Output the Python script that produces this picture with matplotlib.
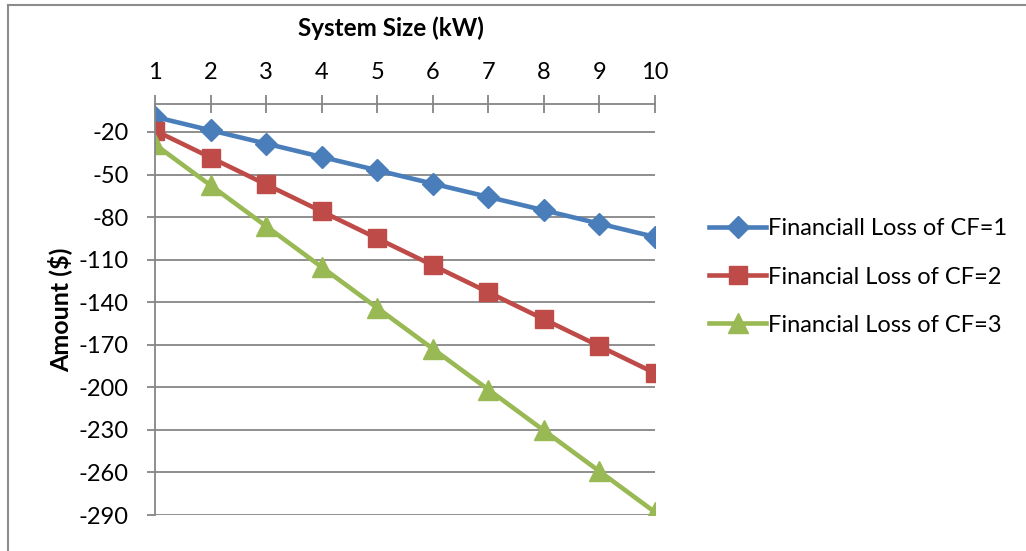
import numpy as np
import matplotlib.pyplot as plt
from matplotlib.lines import Line2D

plt.rcParams['font.family'] = ['Lato', 'DejaVu Sans']
plt.rcParams['axes.unicode_minus'] = False

system_size = [1, 2, 3, 4, 5, 6, 7, 8, 9, 10]
loss_cf1 = [-9.4, -18.8, -28.2, -37.6, -47.0, -56.4, -65.8, -75.2, -84.6, -94.0]
loss_cf2 = [-19, -38, -57, -76, -95, -114, -133, -152, -171, -190]
loss_cf3 = [-28.8, -57.6, -86.4, -115.2, -144.0, -172.8, -201.6, -230.4, -259.2, -288.0]
y_ticks = [-290, -260, -230, -200, -170, -140, -110, -80, -50, -20]

labels = ['Financiall Loss of CF=1', 'Financial Loss of CF=2', 'Financial Loss of CF=3']
grid_col = '#868686'

fig = plt.figure(figsize=(10.26, 5.51), dpi=100)
ax = fig.add_axes([155/1026, 1-515/551, 500/1026, (515-103.6)/551])

ax.plot(system_size, loss_cf1, color='#4A7EBB', lw=3.3, marker='D', ms=11, label=labels[0])
ax.plot(system_size, loss_cf2, color='#BE4B48', lw=3.3, marker='s', ms=13, label=labels[1])
ax.plot(system_size, loss_cf3, color='#98B954', lw=3.3, marker='^', ms=14, label=labels[2])

ax.set_xlim(1, 10)
ax.set_ylim(-290, 0)
ax.set_xticks(system_size)
ax.set_yticks(y_ticks)
ax.xaxis.tick_top()
ax.tick_params(axis='x', direction='inout', length=13, width=1.3, color=grid_col,
               labelsize=17, pad=8)
ax.tick_params(axis='y', direction='out', length=6, width=1.3, color=grid_col,
               labelsize=17, pad=13)
ax.yaxis.grid(True, color=grid_col, lw=1.3)
ax.set_axisbelow(True)
for s in ['right', 'bottom']:
    ax.spines[s].set_visible(False)
for s in ['left', 'top']:
    ax.spines[s].set_color(grid_col)
    ax.spines[s].set_linewidth(1.3)

fig.text(391/1026, 1-28/551, 'System Size (kW)', ha='center', va='center',
         fontsize=17.5, fontweight='bold')
fig.text(60/1026, 1-310/551, 'Amount ($)', ha='center', va='center',
         rotation=90, fontsize=18, fontweight='bold')

ax.legend(loc='center left', bbox_to_anchor=(700/1026, 1-277/551),
          bbox_transform=fig.transFigure, frameon=False, fontsize=17,
          handlelength=2.4, handletextpad=0.1, labelspacing=1.15, borderaxespad=0)

# chart border (cropped at right and bottom)
fig.add_artist(Line2D([8/1026, 8/1026], [0, 1-5/551], color='#8C8C8C', lw=1.5))
fig.add_artist(Line2D([8/1026, 1], [1-5/551, 1-5/551], color='#8C8C8C', lw=1.5))

fig.savefig('out.png', dpi=100)
